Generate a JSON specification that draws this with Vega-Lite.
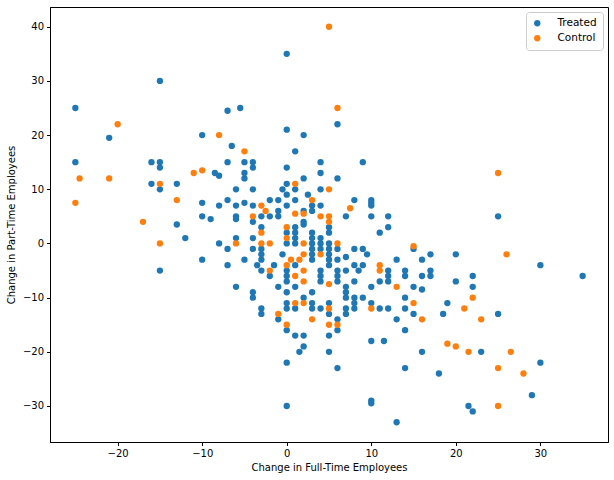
{
  "$schema": "https://vega.github.io/schema/vega-lite/v6.json",
  "width": 558,
  "height": 435,
  "autosize": {"type": "none"},
  "padding": {"left": 50, "top": 7, "right": 6, "bottom": 38},
  "background": "white",
  "config": {
    "font": "DejaVu Sans",
    "view": {"stroke": "#000000", "strokeWidth": 1},
    "axis": {
      "grid": false,
      "domainColor": "#000000",
      "tickColor": "#000000",
      "tickSize": 3.5,
      "labelColor": "#000000",
      "titleColor": "#000000",
      "labelFontSize": 10,
      "titleFontSize": 10,
      "titleFontWeight": "normal",
      "labelPadding": 3,
      "labelFont": "DejaVu Sans",
      "titleFont": "DejaVu Sans"
    }
  },
  "data": {
    "values": [
      {"x": -25, "y": 25, "group": "Treated"},
      {"x": -21, "y": 19.5, "group": "Treated"},
      {"x": -15, "y": 30, "group": "Treated"},
      {"x": -10, "y": 20, "group": "Treated"},
      {"x": -7, "y": 24.5, "group": "Treated"},
      {"x": -5.5, "y": 25, "group": "Treated"},
      {"x": -6.5, "y": 18, "group": "Treated"},
      {"x": 0, "y": 35, "group": "Treated"},
      {"x": 6, "y": 22, "group": "Treated"},
      {"x": 0, "y": 21, "group": "Treated"},
      {"x": 2, "y": 20, "group": "Treated"},
      {"x": 1, "y": 17, "group": "Treated"},
      {"x": -25, "y": 15, "group": "Treated"},
      {"x": -16, "y": 15, "group": "Treated"},
      {"x": -15, "y": 15, "group": "Treated"},
      {"x": -15, "y": 14, "group": "Treated"},
      {"x": -16, "y": 11, "group": "Treated"},
      {"x": -15, "y": 10, "group": "Treated"},
      {"x": -13, "y": 11, "group": "Treated"},
      {"x": -8.5, "y": 13, "group": "Treated"},
      {"x": -8, "y": 12.5, "group": "Treated"},
      {"x": -7, "y": 15, "group": "Treated"},
      {"x": -6, "y": 10, "group": "Treated"},
      {"x": -7, "y": 8, "group": "Treated"},
      {"x": -8, "y": 7, "group": "Treated"},
      {"x": -6, "y": 7, "group": "Treated"},
      {"x": -10, "y": 7.5, "group": "Treated"},
      {"x": -10, "y": 5, "group": "Treated"},
      {"x": -9, "y": 4.5, "group": "Treated"},
      {"x": -6, "y": 5, "group": "Treated"},
      {"x": -6, "y": 4.5, "group": "Treated"},
      {"x": -13, "y": 3.5, "group": "Treated"},
      {"x": -12, "y": 1, "group": "Treated"},
      {"x": -8, "y": 0, "group": "Treated"},
      {"x": -6, "y": 1, "group": "Treated"},
      {"x": -7, "y": -1, "group": "Treated"},
      {"x": -10, "y": -3, "group": "Treated"},
      {"x": -7, "y": -4, "group": "Treated"},
      {"x": -15, "y": -5, "group": "Treated"},
      {"x": -6, "y": -8, "group": "Treated"},
      {"x": -5, "y": 15, "group": "Treated"},
      {"x": -4, "y": 15, "group": "Treated"},
      {"x": 4, "y": 15, "group": "Treated"},
      {"x": 9, "y": 15, "group": "Treated"},
      {"x": -4, "y": 14, "group": "Treated"},
      {"x": 0, "y": 14, "group": "Treated"},
      {"x": -5, "y": 13, "group": "Treated"},
      {"x": 4, "y": 13, "group": "Treated"},
      {"x": -5, "y": 12, "group": "Treated"},
      {"x": 2, "y": 12, "group": "Treated"},
      {"x": 6, "y": 12, "group": "Treated"},
      {"x": 0, "y": 11, "group": "Treated"},
      {"x": -4, "y": 10, "group": "Treated"},
      {"x": -0.5, "y": 10, "group": "Treated"},
      {"x": 1, "y": 10, "group": "Treated"},
      {"x": 4, "y": 10, "group": "Treated"},
      {"x": 0, "y": 9, "group": "Treated"},
      {"x": 2.5, "y": 9, "group": "Treated"},
      {"x": -2, "y": 8, "group": "Treated"},
      {"x": -1, "y": 8, "group": "Treated"},
      {"x": 1, "y": 8, "group": "Treated"},
      {"x": 8, "y": 8, "group": "Treated"},
      {"x": 10, "y": 8, "group": "Treated"},
      {"x": 10, "y": 7.5, "group": "Treated"},
      {"x": 10, "y": 7, "group": "Treated"},
      {"x": -5, "y": 7.5, "group": "Treated"},
      {"x": -4, "y": 7, "group": "Treated"},
      {"x": 0, "y": 7, "group": "Treated"},
      {"x": 3, "y": 7, "group": "Treated"},
      {"x": 4, "y": 7, "group": "Treated"},
      {"x": -1, "y": 6, "group": "Treated"},
      {"x": 2, "y": 6, "group": "Treated"},
      {"x": 3, "y": 6, "group": "Treated"},
      {"x": -3, "y": 5, "group": "Treated"},
      {"x": -2, "y": 5, "group": "Treated"},
      {"x": -1, "y": 5, "group": "Treated"},
      {"x": 7, "y": 5, "group": "Treated"},
      {"x": 10, "y": 5, "group": "Treated"},
      {"x": 12, "y": 5, "group": "Treated"},
      {"x": -4, "y": 4, "group": "Treated"},
      {"x": 2, "y": 4, "group": "Treated"},
      {"x": -3, "y": 3, "group": "Treated"},
      {"x": 1, "y": 3, "group": "Treated"},
      {"x": 2, "y": 3.5, "group": "Treated"},
      {"x": 5, "y": 3, "group": "Treated"},
      {"x": 12, "y": 3, "group": "Treated"},
      {"x": 0, "y": 2, "group": "Treated"},
      {"x": 1, "y": 2, "group": "Treated"},
      {"x": 3, "y": 2, "group": "Treated"},
      {"x": 5, "y": 2, "group": "Treated"},
      {"x": 11, "y": 2, "group": "Treated"},
      {"x": -4, "y": 1, "group": "Treated"},
      {"x": 1, "y": 1, "group": "Treated"},
      {"x": 3, "y": 1, "group": "Treated"},
      {"x": 4, "y": 1, "group": "Treated"},
      {"x": 0, "y": 0, "group": "Treated"},
      {"x": 1, "y": 0, "group": "Treated"},
      {"x": 3, "y": 0, "group": "Treated"},
      {"x": 4, "y": 0, "group": "Treated"},
      {"x": 5, "y": 0, "group": "Treated"},
      {"x": 15, "y": -1, "group": "Treated"},
      {"x": -4, "y": -1, "group": "Treated"},
      {"x": -3, "y": -1, "group": "Treated"},
      {"x": 3, "y": -1, "group": "Treated"},
      {"x": 4, "y": -1, "group": "Treated"},
      {"x": 5, "y": -1, "group": "Treated"},
      {"x": 6, "y": -1, "group": "Treated"},
      {"x": 8, "y": -1, "group": "Treated"},
      {"x": 9, "y": -1, "group": "Treated"},
      {"x": -3, "y": -2, "group": "Treated"},
      {"x": -0.5, "y": -2, "group": "Treated"},
      {"x": 3, "y": -2, "group": "Treated"},
      {"x": 5, "y": -2, "group": "Treated"},
      {"x": 9.5, "y": -2, "group": "Treated"},
      {"x": 7, "y": -2.5, "group": "Treated"},
      {"x": -5, "y": -3, "group": "Treated"},
      {"x": -3, "y": -3, "group": "Treated"},
      {"x": 3, "y": -3, "group": "Treated"},
      {"x": 5, "y": -3, "group": "Treated"},
      {"x": 6, "y": -3, "group": "Treated"},
      {"x": 13, "y": -3, "group": "Treated"},
      {"x": 16, "y": -3, "group": "Treated"},
      {"x": -3.5, "y": -4, "group": "Treated"},
      {"x": 1, "y": -4, "group": "Treated"},
      {"x": -1.5, "y": -4, "group": "Treated"},
      {"x": 5, "y": -4, "group": "Treated"},
      {"x": 8, "y": -4, "group": "Treated"},
      {"x": 9, "y": -4, "group": "Treated"},
      {"x": -3, "y": -5, "group": "Treated"},
      {"x": 0, "y": -5, "group": "Treated"},
      {"x": 4, "y": -5, "group": "Treated"},
      {"x": 6, "y": -5, "group": "Treated"},
      {"x": 7, "y": -5, "group": "Treated"},
      {"x": 8.5, "y": -5, "group": "Treated"},
      {"x": 12, "y": -5, "group": "Treated"},
      {"x": 14, "y": -5, "group": "Treated"},
      {"x": -2, "y": -6, "group": "Treated"},
      {"x": 0, "y": -6, "group": "Treated"},
      {"x": 4, "y": -6, "group": "Treated"},
      {"x": 6, "y": -6, "group": "Treated"},
      {"x": 12, "y": -6, "group": "Treated"},
      {"x": 14, "y": -6, "group": "Treated"},
      {"x": 0, "y": -7, "group": "Treated"},
      {"x": 4, "y": -7, "group": "Treated"},
      {"x": 6, "y": -7, "group": "Treated"},
      {"x": 8, "y": -7, "group": "Treated"},
      {"x": 11, "y": -7, "group": "Treated"},
      {"x": 12, "y": -7, "group": "Treated"},
      {"x": -1, "y": -8, "group": "Treated"},
      {"x": 7, "y": -8, "group": "Treated"},
      {"x": 10, "y": -8, "group": "Treated"},
      {"x": 15, "y": -8, "group": "Treated"},
      {"x": -4, "y": -9, "group": "Treated"},
      {"x": 0, "y": -9, "group": "Treated"},
      {"x": 3, "y": -9, "group": "Treated"},
      {"x": 7, "y": -9, "group": "Treated"},
      {"x": 16, "y": -8.5, "group": "Treated"},
      {"x": 25, "y": 5, "group": "Treated"},
      {"x": 17, "y": -2, "group": "Treated"},
      {"x": 20, "y": -2, "group": "Treated"},
      {"x": 17, "y": -5, "group": "Treated"},
      {"x": 17, "y": -6, "group": "Treated"},
      {"x": 16, "y": -6, "group": "Treated"},
      {"x": 30, "y": -4, "group": "Treated"},
      {"x": 35, "y": -6, "group": "Treated"},
      {"x": 20, "y": -7, "group": "Treated"},
      {"x": 22, "y": -6, "group": "Treated"},
      {"x": 22, "y": -8, "group": "Treated"},
      {"x": 19, "y": -11, "group": "Treated"},
      {"x": 15, "y": -13, "group": "Treated"},
      {"x": 18.5, "y": -13, "group": "Treated"},
      {"x": 25, "y": -13, "group": "Treated"},
      {"x": 16, "y": -20, "group": "Treated"},
      {"x": 23, "y": -20, "group": "Treated"},
      {"x": 30, "y": -22, "group": "Treated"},
      {"x": 18, "y": -24, "group": "Treated"},
      {"x": 29, "y": -28, "group": "Treated"},
      {"x": 21.5, "y": -30, "group": "Treated"},
      {"x": 22, "y": -31, "group": "Treated"},
      {"x": -4, "y": -10, "group": "Treated"},
      {"x": 1, "y": -8, "group": "Treated"},
      {"x": 7, "y": -10, "group": "Treated"},
      {"x": -3, "y": -12, "group": "Treated"},
      {"x": -3, "y": -13, "group": "Treated"},
      {"x": 0, "y": -11, "group": "Treated"},
      {"x": 0, "y": -12, "group": "Treated"},
      {"x": 1, "y": -12, "group": "Treated"},
      {"x": 2, "y": -10, "group": "Treated"},
      {"x": 3, "y": -11, "group": "Treated"},
      {"x": 3, "y": -12, "group": "Treated"},
      {"x": 4, "y": -12, "group": "Treated"},
      {"x": 5, "y": -11, "group": "Treated"},
      {"x": 5, "y": -13, "group": "Treated"},
      {"x": 6, "y": -14, "group": "Treated"},
      {"x": 7, "y": -12, "group": "Treated"},
      {"x": 7, "y": -13, "group": "Treated"},
      {"x": 8, "y": -10, "group": "Treated"},
      {"x": 8, "y": -11, "group": "Treated"},
      {"x": 8, "y": -12, "group": "Treated"},
      {"x": 9, "y": -10, "group": "Treated"},
      {"x": 10, "y": -11, "group": "Treated"},
      {"x": 11, "y": -12, "group": "Treated"},
      {"x": 12, "y": -12, "group": "Treated"},
      {"x": 14, "y": -10, "group": "Treated"},
      {"x": 14, "y": -12, "group": "Treated"},
      {"x": -1, "y": -14, "group": "Treated"},
      {"x": 13, "y": -14, "group": "Treated"},
      {"x": 14, "y": -16, "group": "Treated"},
      {"x": 0, "y": -16, "group": "Treated"},
      {"x": 6, "y": -16, "group": "Treated"},
      {"x": 1, "y": -17, "group": "Treated"},
      {"x": 2, "y": -17, "group": "Treated"},
      {"x": 5, "y": -17, "group": "Treated"},
      {"x": 10, "y": -18, "group": "Treated"},
      {"x": 11.5, "y": -18, "group": "Treated"},
      {"x": 2, "y": -19, "group": "Treated"},
      {"x": 1.5, "y": -20, "group": "Treated"},
      {"x": 5, "y": -20, "group": "Treated"},
      {"x": 0, "y": -22, "group": "Treated"},
      {"x": 6, "y": -23, "group": "Treated"},
      {"x": 14, "y": -23, "group": "Treated"},
      {"x": 10, "y": -29, "group": "Treated"},
      {"x": 10, "y": -29.5, "group": "Treated"},
      {"x": 0, "y": -30, "group": "Treated"},
      {"x": 13, "y": -33, "group": "Treated"},
      {"x": -20, "y": 22, "group": "Control"},
      {"x": -8, "y": 20, "group": "Control"},
      {"x": 5, "y": 40, "group": "Control"},
      {"x": 6, "y": 25, "group": "Control"},
      {"x": -5, "y": 17, "group": "Control"},
      {"x": -24.5, "y": 12, "group": "Control"},
      {"x": -21, "y": 12, "group": "Control"},
      {"x": -25, "y": 7.5, "group": "Control"},
      {"x": -15, "y": 11, "group": "Control"},
      {"x": -13, "y": 8, "group": "Control"},
      {"x": -11, "y": 13, "group": "Control"},
      {"x": -10, "y": 13.5, "group": "Control"},
      {"x": -17, "y": 4, "group": "Control"},
      {"x": -15, "y": 0, "group": "Control"},
      {"x": -6, "y": 0, "group": "Control"},
      {"x": 1, "y": 11, "group": "Control"},
      {"x": 5, "y": 10, "group": "Control"},
      {"x": 3, "y": 8, "group": "Control"},
      {"x": -3, "y": 7, "group": "Control"},
      {"x": 7.5, "y": 6.5, "group": "Control"},
      {"x": -2.5, "y": 6, "group": "Control"},
      {"x": -4, "y": 5, "group": "Control"},
      {"x": 1, "y": 5.5, "group": "Control"},
      {"x": 2, "y": 5.5, "group": "Control"},
      {"x": 4, "y": 5, "group": "Control"},
      {"x": 5, "y": 5, "group": "Control"},
      {"x": 5, "y": 4, "group": "Control"},
      {"x": 0, "y": 3, "group": "Control"},
      {"x": -3, "y": 2, "group": "Control"},
      {"x": 0, "y": 1, "group": "Control"},
      {"x": -3, "y": 0, "group": "Control"},
      {"x": -2, "y": 0, "group": "Control"},
      {"x": 2, "y": 0, "group": "Control"},
      {"x": 6, "y": 0, "group": "Control"},
      {"x": 15, "y": -0.5, "group": "Control"},
      {"x": 4, "y": -2, "group": "Control"},
      {"x": 2, "y": -2, "group": "Control"},
      {"x": 0.5, "y": -3, "group": "Control"},
      {"x": 1.5, "y": -3, "group": "Control"},
      {"x": 0, "y": -4, "group": "Control"},
      {"x": 11, "y": -4, "group": "Control"},
      {"x": -2, "y": -5, "group": "Control"},
      {"x": 2, "y": -5, "group": "Control"},
      {"x": 11, "y": -5, "group": "Control"},
      {"x": 1, "y": -6, "group": "Control"},
      {"x": 2, "y": -7, "group": "Control"},
      {"x": 5, "y": -7.5, "group": "Control"},
      {"x": 13, "y": -8, "group": "Control"},
      {"x": 25, "y": 13, "group": "Control"},
      {"x": 26, "y": -2, "group": "Control"},
      {"x": 22, "y": -10, "group": "Control"},
      {"x": 15, "y": -11, "group": "Control"},
      {"x": 21, "y": -12, "group": "Control"},
      {"x": 16, "y": -14, "group": "Control"},
      {"x": 23, "y": -14, "group": "Control"},
      {"x": 19, "y": -18.5, "group": "Control"},
      {"x": 20, "y": -19, "group": "Control"},
      {"x": 21.5, "y": -20, "group": "Control"},
      {"x": 26.5, "y": -20, "group": "Control"},
      {"x": 25, "y": -23, "group": "Control"},
      {"x": 28, "y": -24, "group": "Control"},
      {"x": 25, "y": -30, "group": "Control"},
      {"x": 1, "y": -11, "group": "Control"},
      {"x": 2, "y": -11, "group": "Control"},
      {"x": 5, "y": -12, "group": "Control"},
      {"x": 10, "y": -12, "group": "Control"},
      {"x": -1, "y": -13, "group": "Control"},
      {"x": 3, "y": -14, "group": "Control"},
      {"x": 0, "y": -15, "group": "Control"},
      {"x": 5, "y": -15, "group": "Control"},
      {"x": 6, "y": -15, "group": "Control"}
    ]
  },
  "mark": {"type": "point", "shape": "circle", "filled": true, "opacity": 1, "size": 40},
  "encoding": {
    "x": {
      "field": "x",
      "type": "quantitative",
      "scale": {"domain": [-28, 38], "nice": false, "zero": false},
      "axis": {"values": [-20, -10, 0, 10, 20, 30], "title": "Change in Full-Time Employees", "titlePadding": 4}
    },
    "y": {
      "field": "y",
      "type": "quantitative",
      "scale": {"domain": [-36.65, 43.65], "nice": false, "zero": false},
      "axis": {"values": [-30, -20, -10, 0, 10, 20, 30, 40], "title": "Change in Part-Time Employees", "titlePadding": 6}
    },
    "color": {
      "field": "group",
      "type": "nominal",
      "scale": {"domain": ["Treated", "Control"], "range": ["#1f77b4", "#ff7f0e"]},
      "legend": {
        "title": null,
        "orient": "top-right",
        "offset": 5,
        "padding": 6,
        "strokeColor": "#cccccc",
        "fillColor": "white",
        "cornerRadius": 3,
        "labelFontSize": 10.5,
        "labelColor": "#000000",
        "labelOffset": 15,
        "symbolSize": 40,
        "symbolType": "circle",
        "rowPadding": 4
      }
    },
    "order": {"field": "group", "sort": "descending"}
  }
}
